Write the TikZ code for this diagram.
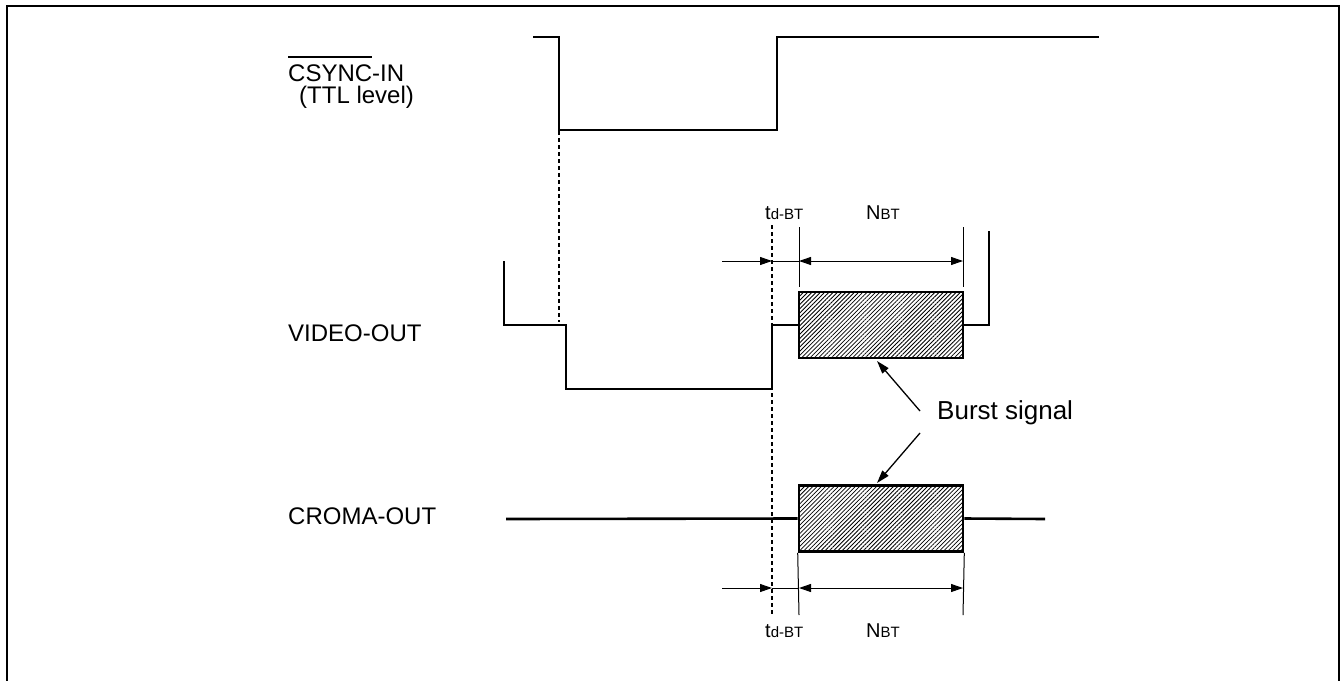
\documentclass[tikz,border=0pt]{standalone}
\usepackage{fontspec}
\setmainfont{Liberation Sans}
\usetikzlibrary{arrows.meta,patterns.meta}
\newcommand\myovl[1]{\setbox0\hbox{#1}\rlap{\raisebox{23pt}{\rule{\wd0}{1.6pt}}}\box0}
\tikzset{
  sig/.style={line width=2.6pt, line join=miter, line cap=butt},
  dim/.style={line width=1pt},
  dimarr/.style={dim, -{Triangle[length=12pt,width=8pt]}},
  dimboth/.style={dim, {Triangle[length=12pt,width=8pt]}-{Triangle[length=12pt,width=8pt]}},
  guide/.style={line width=1.1pt, dash pattern=on 4pt off 3pt},
  burstbox/.style={draw, line width=2.6pt, minimum width=164pt, minimum height=66pt, inner sep=0pt,
    pattern={Lines[angle=45,distance=3pt,line width=0.8pt]}},
  lbl/.style={anchor=base west, inner sep=0pt, font=\fontsize{24}{28}\selectfont},
  small/.style={anchor=base west, inner sep=0pt},
  pointer/.style={line width=1.3pt, -{Triangle[length=13pt,width=8pt]}}
}
\begin{document}
\begin{tikzpicture}[x=1pt,y=-1pt]
\useasboundingbox (0,0) rectangle (1340,680);
% frame
\draw[line width=2pt] (7,682) -- (7,6) -- (1339,6) -- (1339,682);

% labels
\node[lbl] (lcsync) at (288,81) {\myovl{CSYNC}-IN};
\node[lbl] (lttl) at (299,103) {(TTL level)};
\node[lbl] (lvideo) at (288,341) {VIDEO-OUT};
\node[lbl] (lcroma) at (288,524) {CROMA-OUT};
\node[lbl, font=\fontsize{26}{30}\selectfont] (lburst) at (937,419) {Burst signal};

\node[small] (tdtop) at (765,219) {\fontsize{20}{24}\selectfont t\fontsize{15}{18}\selectfont d-BT};
\node[small] (nbttop) at (866,219) {\fontsize{20}{24}\selectfont N\fontsize{15}{18}\selectfont BT};
\node[small] (tdbot) at (765,637) {\fontsize{20}{24}\selectfont t\fontsize{15}{18}\selectfont d-BT};
\node[small] (nbtbot) at (866,637) {\fontsize{20}{24}\selectfont N\fontsize{15}{18}\selectfont BT};

% burst boxes
\node[burstbox] (vbox) at (881,325) {};
\node[burstbox] (cbox) at (881,518.5) {};

% CSYNC waveform
\draw[sig] (533,37) -- (559,37) -- (559,130) -- (777,130) -- (777,37) -- (1099,37);

% VIDEO waveform
\draw[sig] (504,261) -- (504,325) -- (566,325) -- (566,389) -- (772,389) -- (772,325) -- (vbox.west);
\draw[sig] (vbox.east) -- (989,325) -- (989,231);

% CROMA waveform
\draw[sig] (506,519) -- (cbox.west);
\draw[sig] (cbox.east) -- (1045,519);

% guide lines
\draw[guide] (559,131) -- (559,322);
\draw[guide] (772,225) -- (772,615);

% extension lines
\draw[dim] (799,227) -- (799,287);
\draw[dim] (963,227) -- (963,287);
\draw[dim] (cbox.south west) -- (799,615);
\draw[dim] (cbox.south east) -- (963,615);

% dimension arrows top
\coordinate (ta0) at (722,261);
\coordinate (ta1) at (772,261);
\coordinate (ta2) at (799,261);
\coordinate (ta3) at (963,261);
\draw[dimarr] (ta0) -- (ta1);
\draw[dim] (ta1) -- (ta2);
\draw[dimboth] (ta2) -- (ta3);

% dimension arrows bottom
\coordinate (ba0) at (722,588);
\coordinate (ba1) at (772,588);
\coordinate (ba2) at (799,588);
\coordinate (ba3) at (963,588);
\draw[dimarr] (ba0) -- (ba1);
\draw[dim] (ba1) -- (ba2);
\draw[dimboth] (ba2) -- (ba3);

% burst pointers
\coordinate (p1) at (920,411);
\coordinate (p2) at (920,433);
\draw[pointer] (p1) -- (877,361);
\draw[pointer] (p2) -- (877,483);
\end{tikzpicture}
\end{document}
